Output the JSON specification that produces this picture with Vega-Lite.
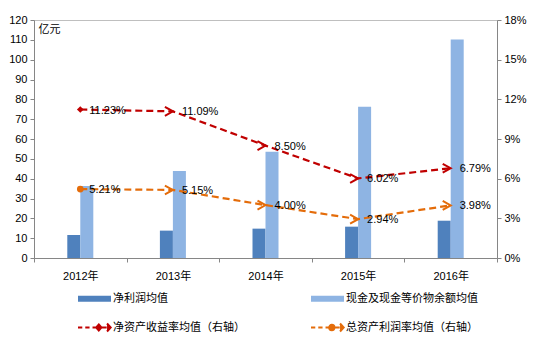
{
  "$schema": "https://vega.github.io/schema/vega-lite/v6.json",
  "width": 463,
  "height": 238,
  "autosize": "none",
  "padding": {"left": 34, "top": 20, "right": 36, "bottom": 80},
  "background": "white",
  "config": {
    "font": "Liberation Sans, Noto Sans CJK SC",
    "view": {"stroke": "#BFBFBF"},
    "axis": {"grid": false, "domainColor": "#868686", "tickColor": "#868686", "tickSize": 4, "labelFontSize": 11, "labelColor": "#000", "titleColor": "#000"}
  },
  "datasets": {
    "bars": [
      {"year": "2012年", "series": "净利润均值", "value": 11.6},
      {"year": "2012年", "series": "现金及现金等价物余额均值", "value": 36.3},
      {"year": "2013年", "series": "净利润均值", "value": 13.8},
      {"year": "2013年", "series": "现金及现金等价物余额均值", "value": 43.9},
      {"year": "2014年", "series": "净利润均值", "value": 14.8},
      {"year": "2014年", "series": "现金及现金等价物余额均值", "value": 53.6},
      {"year": "2015年", "series": "净利润均值", "value": 15.8},
      {"year": "2015年", "series": "现金及现金等价物余额均值", "value": 76.3},
      {"year": "2016年", "series": "净利润均值", "value": 18.8},
      {"year": "2016年", "series": "现金及现金等价物余额均值", "value": 110.2}
    ],
    "lines": [
      {"year": "2012年", "series": "净资产收益率均值（右轴）", "value": 0.1123},
      {"year": "2013年", "series": "净资产收益率均值（右轴）", "value": 0.1109},
      {"year": "2014年", "series": "净资产收益率均值（右轴）", "value": 0.0850},
      {"year": "2015年", "series": "净资产收益率均值（右轴）", "value": 0.0602},
      {"year": "2016年", "series": "净资产收益率均值（右轴）", "value": 0.0679},
      {"year": "2012年", "series": "总资产利润率均值（右轴）", "value": 0.0521},
      {"year": "2013年", "series": "总资产利润率均值（右轴）", "value": 0.0515},
      {"year": "2014年", "series": "总资产利润率均值（右轴）", "value": 0.0400},
      {"year": "2015年", "series": "总资产利润率均值（右轴）", "value": 0.0294},
      {"year": "2016年", "series": "总资产利润率均值（右轴）", "value": 0.0398}
    ]
  },
  "layer": [
    {
      "data": {"name": "bars"},
      "mark": {"type": "bar"},
      "encoding": {
        "x": {"field": "year", "type": "nominal", "sort": null, "scale": {"paddingInner": 0, "paddingOuter": 0},
          "axis": {"title": null, "labelAngle": 0, "tickBand": "extent", "labelPadding": 8}},
        "xOffset": {"field": "series", "type": "nominal", "sort": null,
          "scale": {"domain": ["p1", "p2", "净利润均值", "现金及现金等价物余额均值", "p3", "p4"], "paddingOuter": 0.56, "paddingInner": 0}},
        "y": {"field": "value", "type": "quantitative", "scale": {"domain": [0, 120], "nice": false},
          "axis": {"orient": "left", "values": [0, 10, 20, 30, 40, 50, 60, 70, 80, 90, 100, 110, 120], "labelPadding": 3,
            "title": "亿元", "titleAngle": 0, "titleX": 4, "titleY": 9, "titleAlign": "left", "titleBaseline": "middle", "titleFontSize": 11, "titleFontWeight": "normal"}},
        "color": {"field": "series", "type": "nominal",
          "scale": {"domain": ["净利润均值", "现金及现金等价物余额均值", "净资产收益率均值（右轴）", "总资产利润率均值（右轴）"],
                    "range": ["#4F81BD", "#8EB4E3", "#C00000", "#E46C0A"]},
          "legend": {
            "title": null, "orient": "none", "legendX": 44, "legendY": 273, "columns": 2, "direction": "horizontal", "columnPadding": 62, "rowPadding": 15,
            "symbolSize": 1089, "labelFontSize": 11, "labelColor": "#000", "labelOffset": 24, "labelLimit": 300, "padding": 0,
            "encode": {"symbols": {"update": {
              "x": {"value": 16.5},
              "shape": {"signal": "datum.value == '净利润均值' || datum.value == '现金及现金等价物余额均值' ? 'M-1,-0.18H1V0.18H-1Z' : (datum.value == '净资产收益率均值（右轴）' ? 'M-1,0H-0.74M-0.56,0H-0.3M-0.12,0H0.08M0.26,-0.18L0.42,0L0.26,0.18L0.1,0ZM0.42,0H0.74M0.76,-0.24L0.98,0L0.76,0.24' : 'M-1,0H-0.74M-0.56,0H-0.3M-0.12,0H0.08M0.1,0A0.16,0.16 0 1,0 0.42,0A0.16,0.16 0 1,0 0.1,0ZM0.42,0H0.74M0.76,-0.24L0.98,0L0.76,0.24')"},
              "fill": {"signal": "scale('color', datum.value)"},
              "stroke": {"signal": "scale('color', datum.value)"},
              "strokeWidth": {"signal": "datum.value == '净利润均值' || datum.value == '现金及现金等价物余额均值' ? 0 : 2"},
              "fillOpacity": {"value": 1},
              "opacity": {"value": 1}
            }}}
          }}
      }
    },
    {
      "data": {"name": "lines"},
      "encoding": {
        "x": {"field": "year", "type": "nominal", "sort": null},
        "y": {"field": "value", "type": "quantitative", "scale": {"domain": [0, 0.18], "nice": false},
          "axis": {"orient": "right", "title": null, "values": [0, 0.03, 0.06, 0.09, 0.12, 0.15, 0.18], "format": ".0%", "labelPadding": 3}},
        "color": {"field": "series", "type": "nominal"}
      },
      "layer": [
        {"mark": {"type": "line", "strokeDash": [7, 4], "strokeWidth": 2.2}},
        {"transform": [{"filter": "datum.year == '2012年'"}],
         "mark": {"type": "point", "filled": true, "size": 45, "opacity": 1},
         "encoding": {"shape": {"field": "series", "type": "nominal",
           "scale": {"domain": ["净资产收益率均值（右轴）", "总资产利润率均值（右轴）"], "range": ["diamond", "circle"]}, "legend": null}}},
        {"transform": [{"filter": "datum.year != '2012年'"}],
         "mark": {"type": "point", "filled": false, "shape": "M-1,-0.55L0,0L-1,0.55", "size": 256, "strokeWidth": 2, "opacity": 1}},
        {"mark": {"type": "text", "align": "left", "baseline": "middle", "dx": 9, "dy": 1, "fontSize": 11, "color": "#000"},
         "encoding": {"text": {"field": "value", "type": "quantitative", "format": ".2%"}, "color": {"value": "#000"}}}
      ]
    }
  ],
  "resolve": {"scale": {"y": "independent"}}
}
